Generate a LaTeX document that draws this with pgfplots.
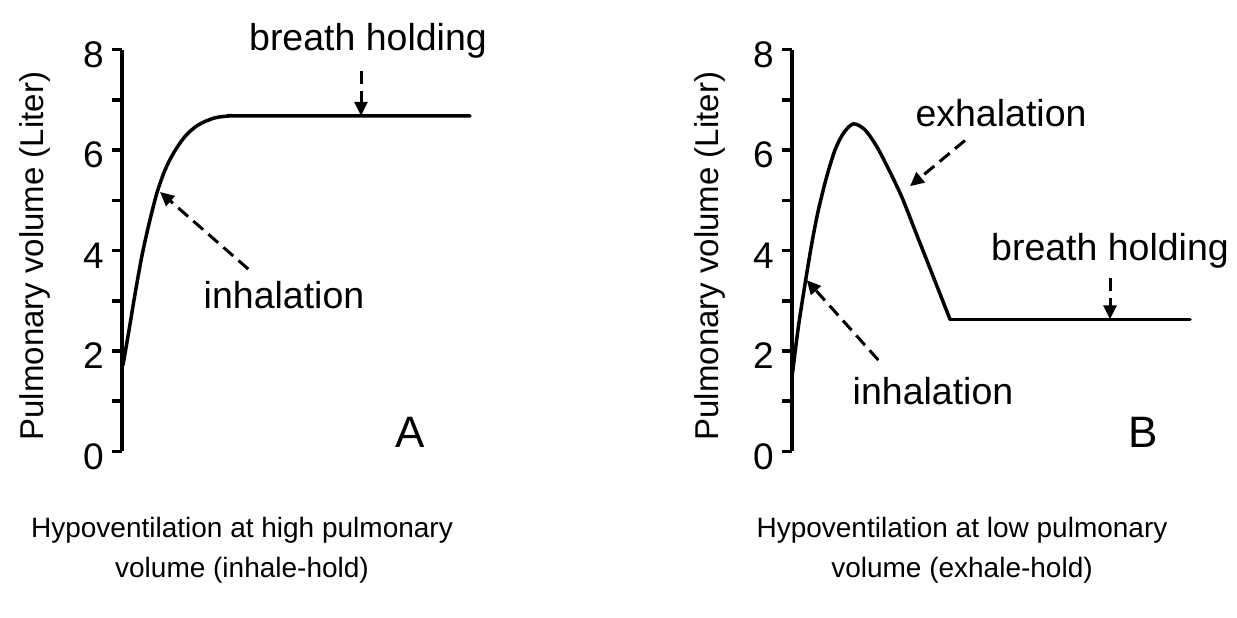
\documentclass[border=0pt]{standalone}
\usepackage{fontspec}
\setmainfont{Liberation Sans}
\usepackage{pgfplots}
\pgfplotsset{compat=1.18}
\usetikzlibrary{arrows.meta}

\pgfplotsset{
  panel/.style={
    scale only axis,
    axis y line*=left,
    axis x line=none,
    ymin=0, ymax=8, xmin=0,
    height=402pt,
    ytick={0,2,4,6,8},
    minor ytick={1,3,5,7},
    xtick=\empty,
    tick align=outside,
    major tick length=10pt,
    minor tick length=10pt,
    major tick style={line width=3.5pt, black},
    minor tick style={line width=3.5pt, black},
    axis line style={line width=4pt, black},
    /pgf/number format/assume math mode=true,
    yticklabel={\fontsize{37}{44}\selectfont\pgfmathprintnumber{\tick}},
    yticklabel style={anchor=east, inner sep=0pt, xshift=-8pt, yshift=-5pt},
    clip=false,
    ylabel={Pulmonary volume (Liter)},
  },
  curve/.style={black, line width=3.5pt, line join=round, line cap=round, no markers},
}
\tikzset{
  annot/.style={black, line width=3pt, dash pattern=on 13pt off 7pt, -{Triangle[length=14pt,width=13pt]}},
  big/.style={font=\fontsize{37.5}{44}\selectfont, anchor=base, inner sep=0pt},
  ttl/.style={font=\fontsize{28}{34}\selectfont, anchor=base, inner sep=0pt},
  let/.style={font=\fontsize{44}{52}\selectfont, anchor=base, inner sep=0pt},
}

\begin{document}
\begin{tikzpicture}
\path[use as bounding box] (0,0) rectangle (1237pt,618pt);

% Panel A
\begin{axis}[panel, at={(122pt,166.5pt)}, anchor=south west,
  width=350pt, xmax=35,
  ylabel style={font=\fontsize{33}{40}\selectfont, at={(rel axis cs:-0.2486,0.486)}, anchor=center}]
\addplot[curve, smooth, tension=0.5] coordinates {
(0.1,1.72) (0.63,2.33) (1.3,3.13) (1.97,3.87) (2.63,4.47) (3.47,5.13)
(4.3,5.6) (5.13,5.93) (6.3,6.27) (7.63,6.5) (9.3,6.64) (10.97,6.68)
(12.3,6.68) (34.8,6.68)};
\node[big] at (axis cs:24.6,7.98) {breath holding};
\draw[annot] (axis cs:23.9,7.58) -- (axis cs:23.9,6.68);
\draw[annot] (axis cs:12.63,3.63) -- (axis cs:3.8,5.165);
\node[big] at (axis cs:16.2,2.85) {inhalation};
\node[let] at (axis cs:28.8,0.07) {A};
\node[ttl] at (axis cs:12.0,-1.72) {Hypoventilation at high pulmonary};
\node[ttl] at (axis cs:12.0,-2.51) {volume (inhale-hold)};
\end{axis}

% Panel B
\begin{axis}[panel, at={(792pt,166.5pt)}, anchor=south west,
  width=400pt, xmax=40,
  ylabel style={font=\fontsize{33}{40}\selectfont, at={(rel axis cs:-0.205,0.486)}, anchor=center}]
\addplot[curve, smooth, tension=0.5] coordinates {
(0.03,1.53) (0.63,2.47) (1.3,3.33) (1.97,4.13) (2.63,4.8) (3.47,5.47)
(4.3,6.0) (5.13,6.33) (6.13,6.52) (7.3,6.4) (8.47,6.07) (9.63,5.63)
(10.97,5.07) (12.3,4.4) (13.63,3.73) (14.97,3.05) (15.8,2.63)};
\addplot[curve] coordinates {(15.8,2.63) (39.8,2.63)};
\node[big] at (axis cs:20.9,6.46) {exhalation};
\draw[annot] (axis cs:17.3,6.19) -- (axis cs:11.8,5.28);
\node[big] at (axis cs:31.8,3.81) {breath holding};
\draw[annot] (axis cs:31.8,3.45) -- (axis cs:31.8,2.63);
\draw[annot] (axis cs:8.63,1.82) -- (axis cs:1.47,3.41);
\node[big] at (axis cs:14.1,0.94) {inhalation};
\node[let] at (axis cs:35.1,0.07) {B};
\node[ttl] at (axis cs:17.0,-1.72) {Hypoventilation at low pulmonary};
\node[ttl] at (axis cs:17.0,-2.51) {volume (exhale-hold)};
\end{axis}
\end{tikzpicture}
\end{document}
